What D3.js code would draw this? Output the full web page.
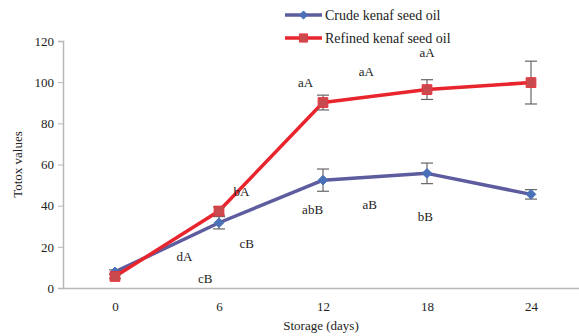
<!DOCTYPE html>
<html>
<head>
<meta charset="utf-8">
<script src="https://cdn.jsdelivr.net/npm/d3@7"></script>
<style>
  html, body { margin: 0; padding: 0; background: #fff; }
  svg { display: block; font-family: "Liberation Serif", "Times New Roman", serif; }
</style>
</head>
<body>
<svg id="chart" width="579" height="336"></svg>
<script>
// Storage time points (days)
const days = [0, 6, 12, 18, 24];

// Totox values and standard deviations
const crudeValues = [7.8, 31.7, 52.4, 55.7, 45.5];
const crudeErrors = [1.0, 3.0, 5.4, 5.0, 2.3];
const refinedValues = [5.6, 37.4, 90.1, 96.4, 99.8];
const refinedErrors = [1.0, 2.0, 3.6, 4.8, 10.4];

const seriesNames = ["Crude kenaf seed oil", "Refined kenaf seed oil"];
const yTicks = [0, 20, 40, 60, 80, 100, 120];

// Significance letters: [label, day position, totox position]
const letters = [
  ["aA", 11.0, 97.6],
  ["aA", 14.5, 103.0],
  ["aA", 18.0, 112.2],
  ["bA", 7.3, 44.7],
  ["cB", 7.6, 19.4],
  ["dA", 4.0, 13.1],
  ["cB", 5.2, 2.4],
  ["abB", 11.4, 35.9],
  ["aB", 14.7, 38.4],
  ["bB", 17.9, 32.6]
];

const svg = d3.select("#chart");
const plotLeft = 63, plotRight = 583, plotTop = 41, plotBottom = 288;

const x = d3.scaleLinear().domain([-3, 27]).range([plotLeft, plotRight]);
const y = d3.scaleLinear().domain([0, 120]).range([plotBottom, plotTop]);

const axisColor = "#b8b8b8";
const textColor = "#222";

// Y axis
const yAxis = svg.append("g")
  .attr("transform", `translate(${plotLeft},0)`)
  .call(d3.axisLeft(y).tickValues(yTicks).tickSize(5).tickPadding(4).tickFormat(d3.format("d")));
yAxis.select(".domain").attr("stroke", axisColor).attr("stroke-width", 1.5);
yAxis.selectAll(".tick line").attr("stroke", axisColor);
yAxis.selectAll(".tick text").attr("fill", textColor).attr("font-size", 13)
  .attr("font-family", "Liberation Serif, serif");

// X axis
const xAxis = svg.append("g")
  .attr("transform", `translate(0,${plotBottom})`)
  .call(d3.axisBottom(x).tickValues(days).tickSize(0).tickPadding(14).tickFormat(d3.format("d")));
xAxis.select(".domain").attr("stroke", axisColor).attr("stroke-width", 1.5);
xAxis.selectAll(".tick text").attr("fill", textColor).attr("font-size", 13)
  .attr("font-family", "Liberation Serif, serif");

// Axis titles
svg.append("text")
  .attr("x", (plotLeft + plotRight) / 2 - 2).attr("y", 330)
  .attr("text-anchor", "middle").attr("font-size", 13).attr("fill", textColor)
  .text("Storage (days)");
svg.append("text")
  .attr("transform", `translate(22,${(plotTop + plotBottom) / 2}) rotate(-90)`)
  .attr("text-anchor", "middle").attr("font-size", 13).attr("fill", textColor)
  .text("Totox values");

const series = [
  { name: seriesNames[0], values: crudeValues, errors: crudeErrors,
    line: "#5c5c9e", fill: "#4a70b8", stroke: "#4a70b8", shape: d3.symbolDiamond2, size: 60 },
  { name: seriesNames[1], values: refinedValues, errors: refinedErrors,
    line: "#e8252d", fill: "#c94a4e", stroke: "#e8353c", shape: d3.symbolSquare, size: 95 }
];

const line = d3.line().x((d, i) => x(days[i])).y(d => y(d));

series.forEach(s => {
  const g = svg.append("g");
  g.append("path")
    .datum(s.values)
    .attr("d", line)
    .attr("fill", "none")
    .attr("stroke", s.line)
    .attr("stroke-width", 3.5)
    .attr("stroke-linejoin", "round");

  // Error bars
  const eb = g.selectAll(".eb").data(s.values).enter().append("g");
  eb.append("line")
    .attr("x1", (d, i) => x(days[i])).attr("x2", (d, i) => x(days[i]))
    .attr("y1", (d, i) => y(d - s.errors[i])).attr("y2", (d, i) => y(d + s.errors[i]))
    .attr("stroke", "#666").attr("stroke-width", 1.2);
  [-1, 1].forEach(sign => {
    eb.append("line")
      .attr("x1", (d, i) => x(days[i]) - 6).attr("x2", (d, i) => x(days[i]) + 6)
      .attr("y1", (d, i) => y(d + sign * s.errors[i])).attr("y2", (d, i) => y(d + sign * s.errors[i]))
      .attr("stroke", "#666").attr("stroke-width", 1.2);
  });

  // Markers
  g.selectAll(".pt").data(s.values).enter().append("path")
    .attr("transform", (d, i) => `translate(${x(days[i])},${y(d)})`)
    .attr("d", d3.symbol().type(s.shape).size(s.size))
    .attr("fill", s.fill)
    .attr("stroke", s.stroke)
    .attr("stroke-width", 1);
});

// Significance letters
svg.selectAll(".letter").data(letters).enter().append("text")
  .attr("x", d => x(d[1])).attr("y", d => y(d[2]))
  .attr("text-anchor", "middle").attr("font-size", 13).attr("fill", textColor)
  .text(d => d[0]);

// Legend
const legend = svg.append("g");
series.forEach((s, i) => {
  const ly = 15 + i * 23;
  legend.append("line")
    .attr("x1", 285).attr("x2", 322).attr("y1", ly).attr("y2", ly)
    .attr("stroke", s.line).attr("stroke-width", 3.5);
  legend.append("path")
    .attr("transform", `translate(303.5,${ly})`)
    .attr("d", d3.symbol().type(s.shape).size(s.size * 0.7))
    .attr("fill", s.fill).attr("stroke", s.stroke).attr("stroke-width", 1);
  legend.append("text")
    .attr("x", 325).attr("y", ly + 5)
    .attr("font-size", 14).attr("fill", textColor)
    .text(s.name);
});
</script>
</body>
</html>
